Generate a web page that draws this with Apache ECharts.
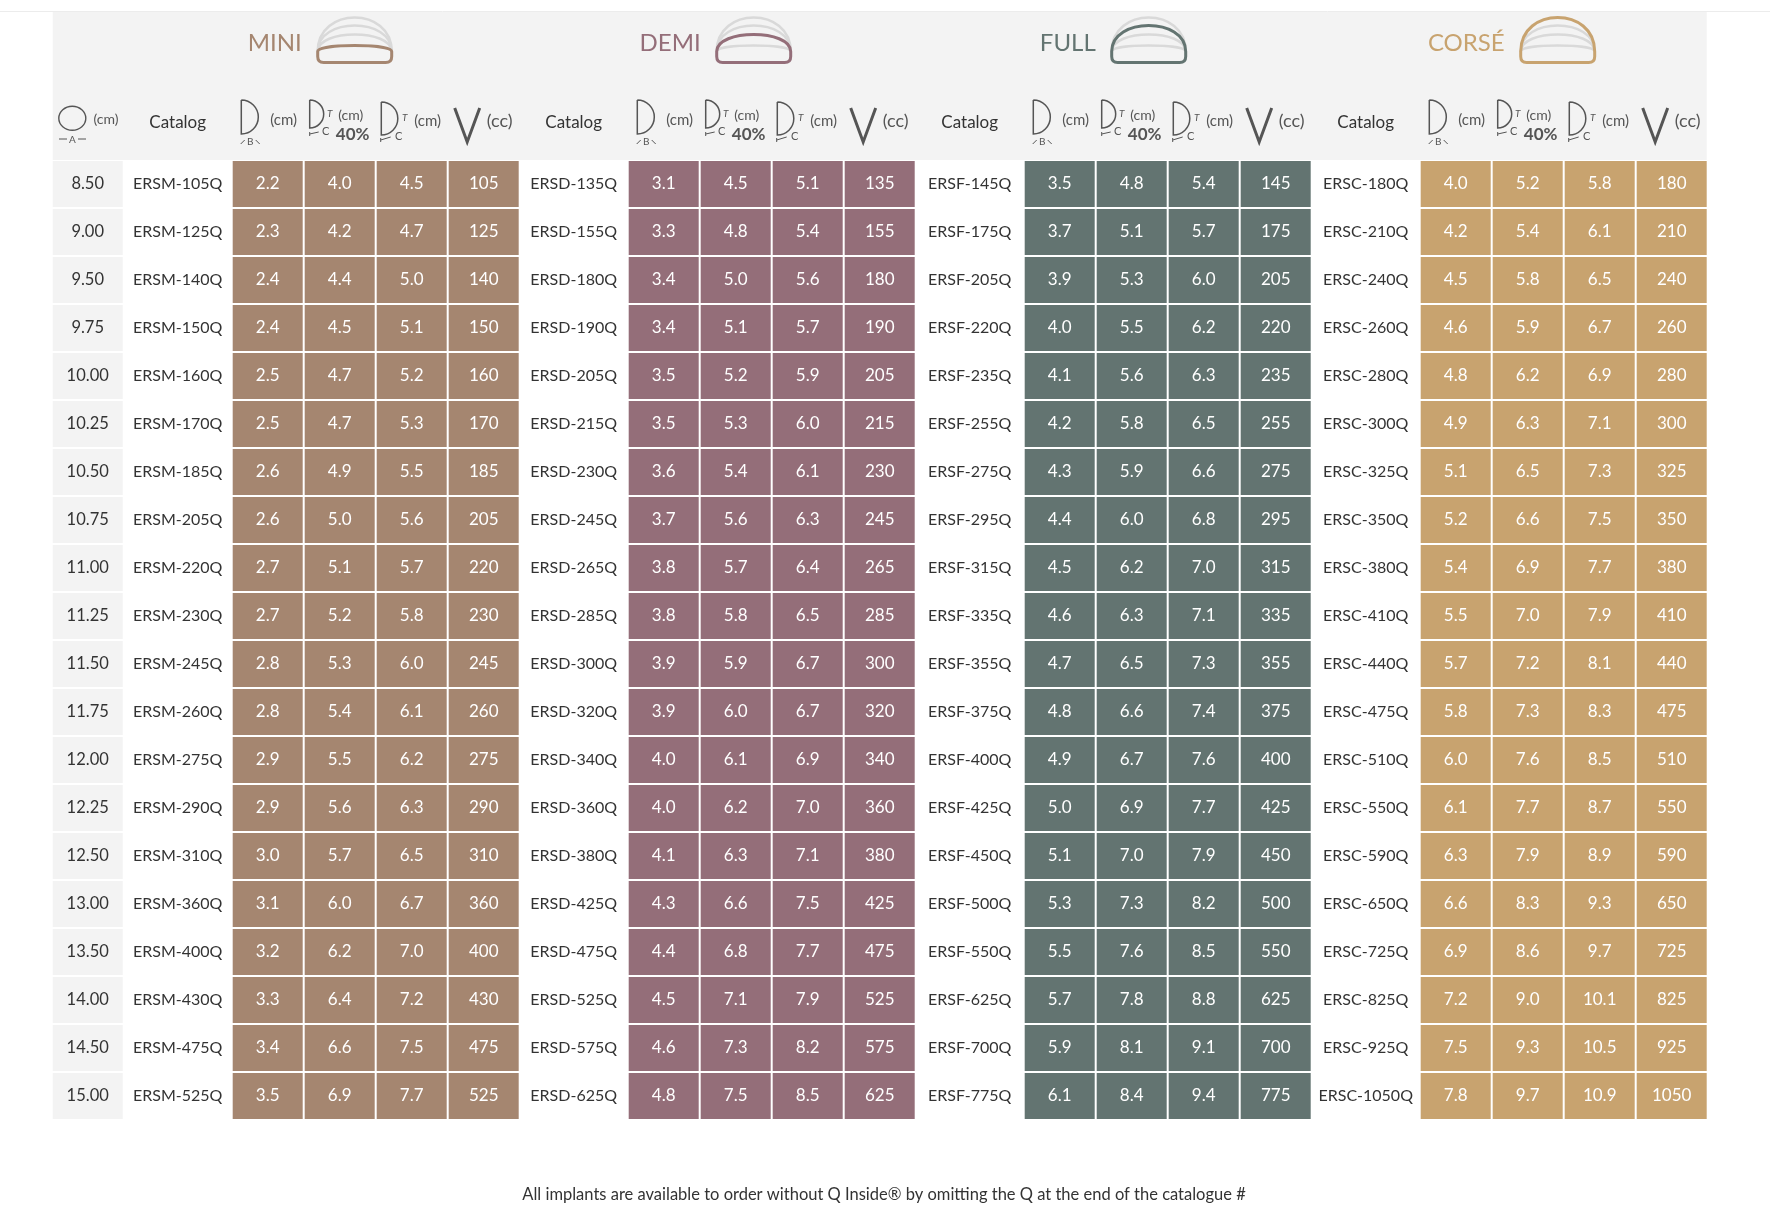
<html>
<head>
<meta charset="utf-8" />
<script src="https://cdn.jsdelivr.net/npm/echarts@6/dist/echarts.min.js"></script>
<style>
  body { margin: 0; background: #fff; }
  #main { width: 1770px; height: 1232px; }
</style>
</head>
<body>
<div id="main"></div>
<script>
// base diameter (cm), one per row
var diameters = [8.50, 9.00, 9.50, 9.75, 10.00, 10.25, 10.50, 10.75, 11.00, 11.25,
                 11.50, 11.75, 12.00, 12.25, 12.50, 13.00, 13.50, 14.00, 14.50, 15.00];

// MINI
var miniCatalog = ['ERSM-105Q','ERSM-125Q','ERSM-140Q','ERSM-150Q','ERSM-160Q','ERSM-170Q','ERSM-185Q','ERSM-205Q','ERSM-220Q','ERSM-230Q',
                   'ERSM-245Q','ERSM-260Q','ERSM-275Q','ERSM-290Q','ERSM-310Q','ERSM-360Q','ERSM-400Q','ERSM-430Q','ERSM-475Q','ERSM-525Q'];
var miniB   = [2.2,2.3,2.4,2.4,2.5,2.5,2.6,2.6,2.7,2.7,2.8,2.8,2.9,2.9,3.0,3.1,3.2,3.3,3.4,3.5];
var miniC40 = [4.0,4.2,4.4,4.5,4.7,4.7,4.9,5.0,5.1,5.2,5.3,5.4,5.5,5.6,5.7,6.0,6.2,6.4,6.6,6.9];
var miniC   = [4.5,4.7,5.0,5.1,5.2,5.3,5.5,5.6,5.7,5.8,6.0,6.1,6.2,6.3,6.5,6.7,7.0,7.2,7.5,7.7];
var miniV   = [105,125,140,150,160,170,185,205,220,230,245,260,275,290,310,360,400,430,475,525];

// DEMI
var demiCatalog = ['ERSD-135Q','ERSD-155Q','ERSD-180Q','ERSD-190Q','ERSD-205Q','ERSD-215Q','ERSD-230Q','ERSD-245Q','ERSD-265Q','ERSD-285Q',
                   'ERSD-300Q','ERSD-320Q','ERSD-340Q','ERSD-360Q','ERSD-380Q','ERSD-425Q','ERSD-475Q','ERSD-525Q','ERSD-575Q','ERSD-625Q'];
var demiB   = [3.1,3.3,3.4,3.4,3.5,3.5,3.6,3.7,3.8,3.8,3.9,3.9,4.0,4.0,4.1,4.3,4.4,4.5,4.6,4.8];
var demiC40 = [4.5,4.8,5.0,5.1,5.2,5.3,5.4,5.6,5.7,5.8,5.9,6.0,6.1,6.2,6.3,6.6,6.8,7.1,7.3,7.5];
var demiC   = [5.1,5.4,5.6,5.7,5.9,6.0,6.1,6.3,6.4,6.5,6.7,6.7,6.9,7.0,7.1,7.5,7.7,7.9,8.2,8.5];
var demiV   = [135,155,180,190,205,215,230,245,265,285,300,320,340,360,380,425,475,525,575,625];

// FULL
var fullCatalog = ['ERSF-145Q','ERSF-175Q','ERSF-205Q','ERSF-220Q','ERSF-235Q','ERSF-255Q','ERSF-275Q','ERSF-295Q','ERSF-315Q','ERSF-335Q',
                   'ERSF-355Q','ERSF-375Q','ERSF-400Q','ERSF-425Q','ERSF-450Q','ERSF-500Q','ERSF-550Q','ERSF-625Q','ERSF-700Q','ERSF-775Q'];
var fullB   = [3.5,3.7,3.9,4.0,4.1,4.2,4.3,4.4,4.5,4.6,4.7,4.8,4.9,5.0,5.1,5.3,5.5,5.7,5.9,6.1];
var fullC40 = [4.8,5.1,5.3,5.5,5.6,5.8,5.9,6.0,6.2,6.3,6.5,6.6,6.7,6.9,7.0,7.3,7.6,7.8,8.1,8.4];
var fullC   = [5.4,5.7,6.0,6.2,6.3,6.5,6.6,6.8,7.0,7.1,7.3,7.4,7.6,7.7,7.9,8.2,8.5,8.8,9.1,9.4];
var fullV   = [145,175,205,220,235,255,275,295,315,335,355,375,400,425,450,500,550,625,700,775];

// CORSÉ
var corseCatalog = ['ERSC-180Q','ERSC-210Q','ERSC-240Q','ERSC-260Q','ERSC-280Q','ERSC-300Q','ERSC-325Q','ERSC-350Q','ERSC-380Q','ERSC-410Q',
                    'ERSC-440Q','ERSC-475Q','ERSC-510Q','ERSC-550Q','ERSC-590Q','ERSC-650Q','ERSC-725Q','ERSC-825Q','ERSC-925Q','ERSC-1050Q'];
var corseB   = [4.0,4.2,4.5,4.6,4.8,4.9,5.1,5.2,5.4,5.5,5.7,5.8,6.0,6.1,6.3,6.6,6.9,7.2,7.5,7.8];
var corseC40 = [5.2,5.4,5.8,5.9,6.2,6.3,6.5,6.6,6.9,7.0,7.2,7.3,7.6,7.7,7.9,8.3,8.6,9.0,9.3,9.7];
var corseC   = [5.8,6.1,6.5,6.7,6.9,7.1,7.3,7.5,7.7,7.9,8.1,8.3,8.5,8.7,8.9,9.3,9.7,10.1,10.5,10.9];
var corseV   = [180,210,240,260,280,300,325,350,380,410,440,475,510,550,590,650,725,825,925,1050];

var groupNames = ['MINI', 'DEMI', 'FULL', 'CORSÉ'];
var columnKeys = ['B', 'C40', 'C', 'V'];
var footnote = 'All implants are available to order without Q Inside\u00ae by omitting the Q at the end of the catalogue #';

var groups = [
  { name: groupNames[0], color: '#a58670', catalog: miniCatalog,  cols: [miniB,  miniC40,  miniC,  miniV] },
  { name: groupNames[1], color: '#946e79', catalog: demiCatalog,  cols: [demiB,  demiC40,  demiC,  demiV] },
  { name: groupNames[2], color: '#637471', catalog: fullCatalog,  cols: [fullB,  fullC40,  fullC,  fullV] },
  { name: groupNames[3], color: '#c8a36f', catalog: corseCatalog, cols: [corseB, corseC40, corseC, corseV] }
];

// layout
var TOP = 161, ROW_H = 48, GRID_H = diameters.length * ROW_H;
var A_LEFT = 52.7, A_W = 70, G0 = 122.7, CAT_W = 110, CELL_W = 72, GROUP_W = 396;
var FONT = 'Lato, "Noto Sans", sans-serif';
var TXT = '#333';
var GLYPH = '#555';
var iconOffsets = [-3, 0, -1, 12];
var domeHeights = [17, 28, 37, 45];

// shapes for the header glyphs
echarts.graphic.registerShape('dome', echarts.graphic.extendShape({
  shape: { x: 0, y: 0, w: 74, s: 11, h: 20, r: 6, closed: false },
  buildPath: function (ctx, sh) {
    var x = sh.x, y = sh.y, w = sh.w, s = sh.s, r = sh.r, k = 4 / 3 * (sh.h - sh.s);
    if (sh.closed) {
      ctx.moveTo(x + r, y);
      ctx.lineTo(x + w - r, y);
      ctx.quadraticCurveTo(x + w, y, x + w, y - r);
      ctx.lineTo(x + w, y - s);
      ctx.bezierCurveTo(x + w, y - s - k, x, y - s - k, x, y - s);
      ctx.lineTo(x, y - r);
      ctx.quadraticCurveTo(x, y, x + r, y);
      ctx.closePath();
    } else {
      ctx.moveTo(x, y - s);
      ctx.bezierCurveTo(x, y - s - k, x + w, y - s - k, x + w, y - s);
    }
  }
}));
echarts.graphic.registerShape('dglyph', echarts.graphic.extendShape({
  shape: { x: 0, top: 0, bottom: 10 },
  buildPath: function (ctx, sh) {
    var r = (sh.bottom - sh.top) / 2;
    ctx.moveTo(sh.x, sh.top);
    ctx.lineTo(sh.x, sh.bottom);
    ctx.arc(sh.x, sh.top + r, r, Math.PI / 2, -Math.PI / 2, true);
  }
}));

var rowIdx = diameters.map(function (d, i) { return String(i); });

var grids = [], xAxes = [], yAxes = [], series = [];

function addGrid(left, width, cats) {
  var i = grids.length;
  grids.push({ left: left, top: TOP, width: width, height: GRID_H });
  xAxes.push({ type: 'category', gridIndex: i, data: cats, show: false });
  yAxes.push({ type: 'category', gridIndex: i, data: rowIdx, inverse: true, show: false });
  return i;
}

function cellSeries(gi, data, labels, fill, textColor, gapX, fontSize) {
  return {
    type: 'custom',
    xAxisIndex: gi,
    yAxisIndex: gi,
    data: data,
    silent: true,
    renderItem: function (params, api) {
      var c = api.coord([api.value(0), api.value(1)]);
      var s = api.size([1, 1]);
      var x = c[0] - s[0] / 2, y = c[1] - s[1] / 2;
      var w = s[0] - gapX, h = s[1] - 2;
      var children = [];
      if (fill) {
        children.push({ type: 'rect', shape: { x: x, y: y, width: w, height: h }, style: { fill: fill } });
      }
      children.push({
        type: 'text',
        style: {
          x: x + w / 2, y: y + h / 2, text: labels[params.dataIndex],
          fill: textColor, font: fontSize + 'px ' + FONT, align: 'center', verticalAlign: 'middle'
        }
      });
      return { type: 'group', children: children };
    }
  };
}

// diameter column
var gA = addGrid(A_LEFT, A_W, ['A']);
series.push(cellSeries(gA,
  diameters.map(function (d, i) { return [0, i]; }),
  diameters.map(function (d) { return d.toFixed(2); }),
  '#f3f3f3', TXT, 0, 16.5));

groups.forEach(function (g, k) {
  var gs = G0 + GROUP_W * k;
  var gc = addGrid(gs, CAT_W, ['Catalog']);
  series.push(cellSeries(gc,
    g.catalog.map(function (n, i) { return [0, i]; }),
    g.catalog, null, TXT, 0, 16));

  var gv = addGrid(gs + CAT_W, CELL_W * 4, columnKeys);
  var data = [], labels = [];
  g.cols.forEach(function (col, ci) {
    col.forEach(function (v, ri) {
      data.push([ci, ri]);
      labels.push(ci === 3 ? String(v) : v.toFixed(1));
    });
  });
  series.push(cellSeries(gv, data, labels, g.color, '#fff', 2, 17));
});

// header decoration
var graphic = [];
graphic.push({ type: 'line', shape: { x1: 0, y1: 11.5, x2: 1770, y2: 11.5 }, style: { stroke: '#ececec', lineWidth: 1 }, z: -2 });
graphic.push({ type: 'rect', shape: { x: A_LEFT, y: 12, width: G0 + GROUP_W * 4 - A_LEFT, height: 148 }, style: { fill: '#f3f3f3' }, z: -1 });

function txt(x, y, text, size, opts) {
  opts = opts || {};
  return {
    type: 'text', x: x, y: y,
    style: {
      text: text, fill: opts.fill || GLYPH, font: (opts.weight || 'normal') + ' ' + size + 'px ' + FONT,
      align: opts.align || 'center', verticalAlign: 'middle'
    }
  };
}
function line(x1, y1, x2, y2, lw) {
  return { type: 'line', shape: { x1: x1, y1: y1, x2: x2, y2: y2 }, style: { stroke: GLYPH, lineWidth: lw || 1 } };
}
function dShape(x, top, bottom) {
  return { type: 'dglyph', shape: { x: x, top: top, bottom: bottom }, style: { stroke: GLYPH, lineWidth: 1.5, fill: null } };
}

// diameter header
graphic.push({ type: 'ellipse', shape: { cx: 72.3, cy: 118.3, rx: 13.5, ry: 12 }, style: { stroke: GLYPH, lineWidth: 1.4, fill: null } });
graphic.push(txt(106, 119, '(cm)', 14));
graphic.push(txt(72.3, 140, 'A', 10));
graphic.push(line(59, 139, 67, 139), line(78, 139, 86, 139));

function dome(left, bottom, level, color) {
  var els = [];
  domeHeights.forEach(function (h, i) {
    if (i === level) return;
    els.push({ type: 'dome', shape: { x: left, y: bottom, w: 74, s: 11, h: h, r: 6, closed: false },
               style: { stroke: '#d9d9d9', lineWidth: 2.5, fill: null } });
  });
  els.push({ type: 'dome', shape: { x: left, y: bottom, w: 74, s: 11, h: domeHeights[level], r: 6, closed: true },
             style: { stroke: color, lineWidth: 3, fill: null } });
  return els;
}

groups.forEach(function (g, k) {
  var gs = G0 + GROUP_W * k;
  var center = gs + GROUP_W / 2;
  var iconLeft = center + iconOffsets[k];
  graphic.push(txt(iconLeft - 16, 43, g.name, 24, { fill: g.color, align: 'right' }));
  graphic = graphic.concat(dome(iconLeft, 62.5, k, g.color));

  graphic.push(txt(gs + CAT_W / 2, 123, 'Catalog', 17, { fill: TXT }));

  // B column
  var b = gs + CAT_W;
  graphic.push(dShape(b + 8.6, 100, 134));
  graphic.push(txt(b + 51, 120, '(cm)', 15));
  graphic.push(txt(b + 17.5, 142, 'B', 10));
  graphic.push(line(b + 8, 144, b + 12, 140), line(b + 23, 140, b + 27, 144));

  // C 40% column
  b += CELL_W;
  graphic.push(dShape(b + 5, 100, 128));
  graphic.push(txt(b + 25, 114, 'T', 10, { weight: 'italic' }));
  graphic.push(txt(b + 21, 131, 'C', 11));
  graphic.push(line(b + 5, 134, b + 14, 132), line(b + 5, 132, b + 5, 136));
  graphic.push(txt(b + 46, 115, '(cm)', 14));
  graphic.push(txt(b + 48, 135, '40%', 17, { weight: 'bold' }));

  // C column
  b += CELL_W;
  graphic.push(dShape(b + 4.6, 102, 135));
  graphic.push(txt(b + 28, 118, 'T', 10, { weight: 'italic' }));
  graphic.push(txt(b + 22, 136, 'C', 11));
  graphic.push(line(b + 4, 140, b + 14, 137), line(b + 4, 138, b + 4, 142));
  graphic.push(txt(b + 51, 121, '(cm)', 15));

  // V column
  b += CELL_W;
  graphic.push({ type: 'polyline', shape: { points: [[b + 6, 108], [b + 18.5, 142], [b + 31, 108]] }, style: { stroke: GLYPH, lineWidth: 3, fill: null } });
  graphic.push(txt(b + 51, 121, '(cc)', 18));
});

graphic.push(txt(884, 1195, footnote, 16.5, { fill: TXT }));

var myChart = echarts.init(document.getElementById('main'));
myChart.setOption({
  animation: false,
  backgroundColor: '#fff',
  grid: grids,
  xAxis: xAxes,
  yAxis: yAxes,
  series: series,
  graphic: graphic
});
</script>
</body>
</html>
